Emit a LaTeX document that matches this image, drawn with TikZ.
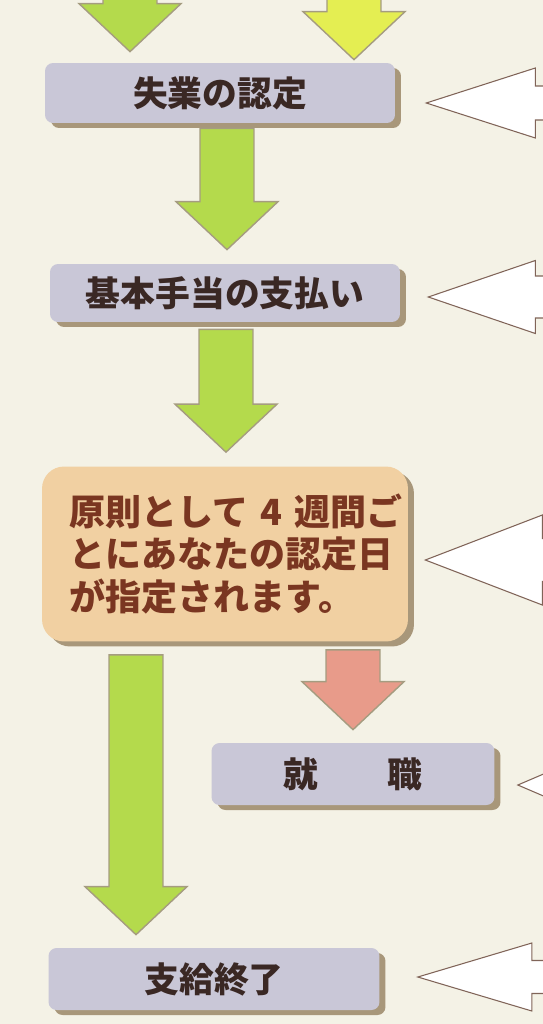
\documentclass[tikz,border=0pt]{standalone}
\usepackage{fontspec}
\newfontfamily\jpfont{Noto Sans CJK JP}
\usetikzlibrary{calc,positioning,shadows}

\definecolor{paper}{HTML}{F4F2E6}
\definecolor{lav}{HTML}{C9C7D7}
\definecolor{peach}{HTML}{F1D0A2}
\definecolor{shtan}{HTML}{A8977A}
\definecolor{boxtext}{HTML}{3A2824}
\definecolor{redtext}{HTML}{7A3621}
\definecolor{leaf}{HTML}{B4DA4C}
\definecolor{lemon}{HTML}{E4EE52}
\definecolor{salmon}{HTML}{E89B8A}
\definecolor{rim}{HTML}{A59C80}
\definecolor{outline}{HTML}{806458}
\definecolor{shade}{HTML}{D9D5CA}

% down block arrow: style, start, tip
\newcommand{\flowdown}[3]{%
  \path[#1] let \p1=(#2), \p2=(#3) in
    (\x1-0.54cm,\y1) -- (\x1-0.54cm,\y2+0.96cm) -- (\x1-1.02cm,\y2+0.96cm)
    -- (\x1,\y2) -- (\x1+1.02cm,\y2+0.96cm) -- (\x1+0.54cm,\y2+0.96cm)
    -- (\x1+0.54cm,\y1) -- cycle;}

% open arrow from the right: tip, head half, shaft half, head length
\newcommand{\flowleft}[4]{%
  \path[fill=shade, xshift=0.22cm, yshift=-0.26cm] let \p1=(#1) in
    (\x1,\y1) -- (\x1+#4,\y1+#2) -- (\x1+#4,\y1+#3) -- (\x1+6cm,\y1+#3)
    -- (\x1+6cm,\y1-#3) -- (\x1+#4,\y1-#3) -- (\x1+#4,\y1-#2) -- cycle;
  \path[draw=outline, fill=white, line width=0.6pt] let \p1=(#1) in
    (\x1,\y1) -- (\x1+#4,\y1+#2) -- (\x1+#4,\y1+#3) -- (\x1+6cm,\y1+#3)
    -- (\x1+6cm,\y1-#3) -- (\x1+#4,\y1-#3) -- (\x1+#4,\y1-#2) -- cycle;}

\begin{document}
\begin{tikzpicture}[
        x=0.02cm, y=-0.02cm,
        box/.style = {fill=lav, rounded corners=0.16cm, minimum width=7cm, minimum height=1.2cm,
            font=\jpfont\bfseries\fontsize{19.8}{23}\selectfont, text=boxtext,
            drop shadow={shadow xshift=0.12cm, shadow yshift=-0.1cm, fill=shtan, opacity=1}},
        bigbox/.style = {box, fill=peach, rounded corners=0.44cm, minimum width=7.32cm, minimum height=3.5cm,
            align=left, text width=6.22cm, text=redtext,
            font=\jpfont\bfseries\fontsize{20.5}{24}\selectfont},
        green/.style = {fill=leaf, draw=rim, line width=0.8pt},
        yellow/.style = {fill=lemon, draw=rim, line width=0.8pt},
        pink/.style = {fill=salmon, draw=rim, line width=0.8pt}]

    \useasboundingbox (0,0) rectangle (543,1024);
    \clip (0,0) rectangle (543,1024);
    \fill[paper] (0,0) rectangle (543,1024);

    \node[box] (b1) at (220,93) {失業の認定};
    \node[box] (b2) at (225,293) [minimum height=1.16cm] {基本手当の支払い};
    \node[bigbox] (b3) at (225,554) {原則として~4~週間ご\\とにあなたの認定日\\が指定されます。};
    \node[box] (b4) at (353,774) [minimum width=5.66cm, minimum height=1.24cm] {就　　職};
    \node[box] (b5) at (214,979) [minimum width=6.62cm, minimum height=1.24cm] {支給終了};

    \coordinate (in1) at (130,-60);
    \coordinate (in2) at (354,-60);

    \flowdown{green}{in1}{$(b1.north)+(-90,-11)$}
    \flowdown{yellow}{in2}{$(b1.north)+(134,-3)$}
    \flowdown{green}{$(b1.south)+(7,5)$}{$(b2.north)+(0,-14)$}
    \flowdown{green}{$(b2.south)+(1,7)$}{$(b3.north)+(0,-14)$}
    \flowdown{green}{$(b3.south)+(-89,13)$}{$(b5.north)+(0,-13)$}
    \flowdown{pink}{$(b3.south)+(128,8)$}{$(b4.north)+(0,-13)$}

    \flowleft{$(b1.east)+(31,10)$}{0.7cm}{0.34cm}{2.18cm}
    \flowleft{$(b2.east)+(28,4)$}{0.73cm}{0.42cm}{2.14cm}
    \flowleft{$(b3.east)+(17,6)$}{0.9cm}{0.43cm}{2.34cm}
    \flowleft{$(b4.east)+(23,11)$}{0.9cm}{0.42cm}{2.1cm}
    \flowleft{$(b5.east)+(38,-2)$}{0.68cm}{0.33cm}{2.28cm}

\end{tikzpicture}
\end{document}
